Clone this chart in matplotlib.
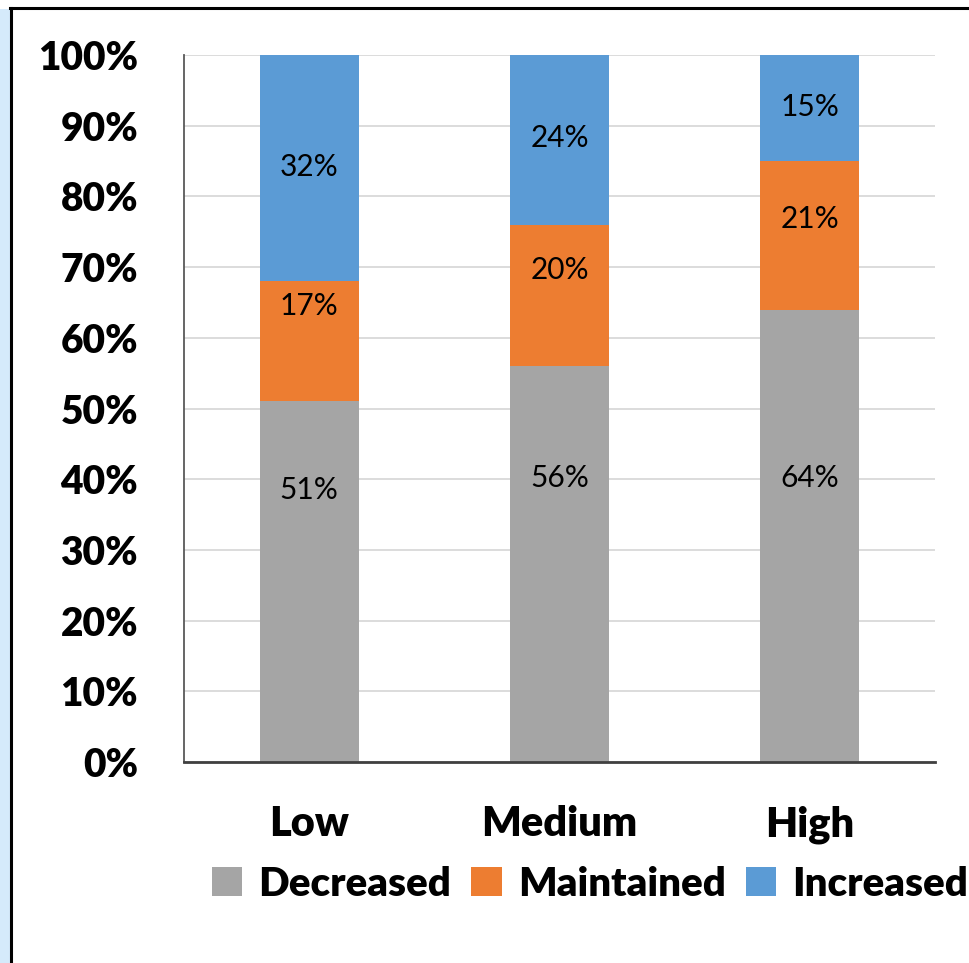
import matplotlib
matplotlib.use("Agg")
import matplotlib.pyplot as plt
from matplotlib.patches import Rectangle
from matplotlib.lines import Line2D

categories = ["Low", "Medium", "High"]
decreased = [51, 56, 64]
maintained = [17, 20, 21]
increased = [32, 24, 15]
series_names = ["Decreased", "Maintained", "Increased"]
series_colors = ["#A5A5A5", "#ED7D31", "#5B9BD5"]
yticks = [0, 10, 20, 30, 40, 50, 60, 70, 80, 90, 100]

# vertical placement of each value label (data units), per series
label_y = [
    [38.5, 40.2, 40.2],
    [64.5, 69.6, 76.8],
    [84.2, 88.3, 92.6],
]

plt.rcParams["font.family"] = ["Lato", "DejaVu Sans"]

W, H = 970, 963
fig = plt.figure(figsize=(W / 100, H / 100), dpi=100)
fig.patch.set_facecolor("white")

# window frame: light blue strip on the left with dark borders
fig.add_artist(Rectangle((0, 0), 10 / W, 1 - 9 / H, transform=fig.transFigure,
                         facecolor="#D5EAFB", edgecolor="none", zorder=0))
fig.add_artist(Line2D([11 / W, 11 / W], [0, 1 - 8 / H], transform=fig.transFigure,
                      color="black", lw=2.2, zorder=1))
fig.add_artist(Line2D([10 / W, 1], [1 - 8 / H, 1 - 8 / H], transform=fig.transFigure,
                      color="black", lw=2.2, zorder=1))

left, right, top, bottom = 184, 935, 55, 762
ax = fig.add_axes([left / W, 1 - bottom / H, (right - left) / W, (bottom - top) / H])

x = list(range(len(categories)))
series = [decreased, maintained, increased]
base = [0] * len(categories)
for vals, name, col, ly in zip(series, series_names, series_colors, label_y):
    ax.bar(x, vals, bottom=base, width=0.396, color=col, label=name, zorder=2)
    for xi, v, yy in zip(x, vals, ly):
        ax.text(xi, yy, f"{v}%", ha="center", va="center", fontsize=21.5,
                color="black", zorder=3)
    base = [b + v for b, v in zip(base, vals)]

ax.set_xlim(-0.5, 2.5)
ax.set_ylim(0, 100)
ax.set_yticks(yticks)
ax.set_yticklabels([f"{t}%" for t in yticks], fontsize=28, fontweight="heavy")
ax.set_xticks(x)
ax.set_xticklabels(categories, fontsize=30, fontweight="heavy")
ax.tick_params(axis="y", length=0, pad=33)
ax.tick_params(axis="x", length=0, pad=31)
for lab in ax.get_yticklabels():
    lab.set_horizontalalignment("right")

ax.grid(axis="y", color="#D9D9D9", lw=1.3, zorder=0)
ax.set_axisbelow(True)
for s in ["top", "right"]:
    ax.spines[s].set_visible(False)
ax.spines["left"].set_color("#595959")
ax.spines["left"].set_linewidth(1.3)
ax.spines["bottom"].set_color("#404040")
ax.spines["bottom"].set_linewidth(2)

handles, labels = ax.get_legend_handles_labels()
fig.legend(handles, labels, loc="center", bbox_to_anchor=(590 / W, 1 - 884 / H),
           ncol=3, frameon=False, prop={"size": 29, "weight": "heavy"},
           handlelength=0.75, handleheight=0.75, handletextpad=0.4,
           columnspacing=0.5)

fig.savefig("out.png", dpi=100, facecolor="white")
